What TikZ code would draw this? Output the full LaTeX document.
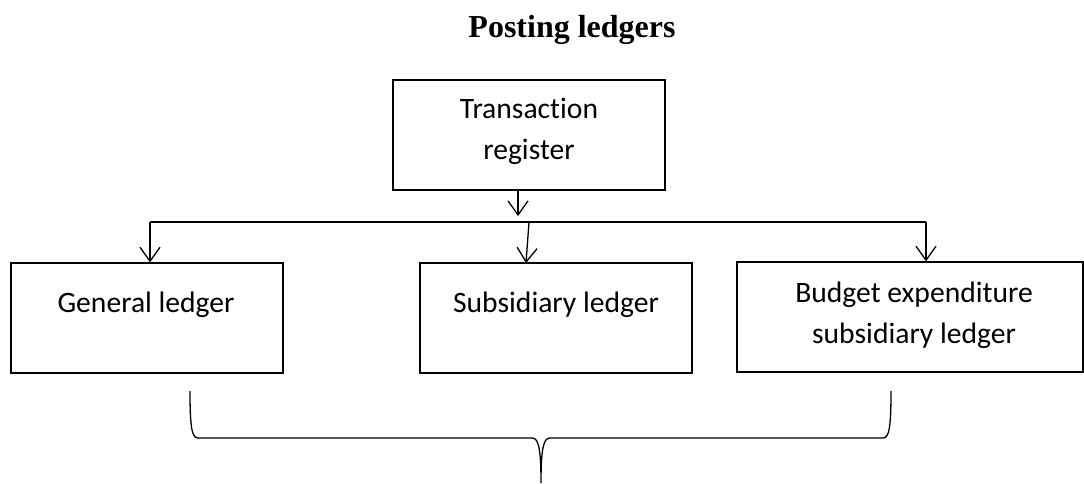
\documentclass[tikz,border=0pt]{standalone}
\usepackage{fontspec}
\setmainfont{Carlito}[Ligatures=NoCommon]
\newfontfamily\titlefont{Liberation Serif}
\usetikzlibrary{arrows.meta}

\tikzset{
  ledgerbox/.style={draw=black, line width=1.3pt, minimum width=272pt, minimum height=110pt, inner sep=0pt},
  boxtext/.style={font=\fontsize{29.6}{41}\selectfont, inner sep=0pt, align=center},
  link/.style={line width=1.3pt},
  flow/.style={line width=1.3pt, -{Straight Barb[length=14pt,width=20pt,line width=1.3pt]}},
}

\begin{document}
\begin{tikzpicture}[x=1pt, y=-1pt]
  \useasboundingbox (0,0) rectangle (1084,483);

  % title
  \node[font=\titlefont\fontsize{32}{38}\selectfont\bfseries, anchor=base, inner sep=0pt] (title) at (572,37) {Posting ledgers};

  % source register
  \node[ledgerbox] (tr) at (529,135) {};
  \node[boxtext] (trtext) at (529,131) {Transaction\\register};

  % the three ledgers
  \node[ledgerbox] (gl) at (147,318) {};
  \node[boxtext, anchor=base] (gltext) at (146,312) {General ledger};

  \node[ledgerbox] (sl) at (556,318) {};
  \node[boxtext, anchor=base] (sltext) at (556,312) {Subsidiary ledger};

  \node[ledgerbox, minimum width=346pt] (bl) at (910,317) {};
  \node[boxtext] (bltext) at (914,315) {Budget expenditure\\subsidiary ledger};

  % distribution bus
  \coordinate (busL) at (150,222);
  \coordinate (busM) at (529,222);
  \coordinate (busR) at (926,222);
  \coordinate (trout) at (518,190);

  \draw[flow] (trout) -- (518,216);
  \draw[link] (busL) -- (busR);
  \draw[flow] (busL) -- (busL |- gl.north);
  \draw[flow] (busM) -- (526,263);
  \draw[flow] (busR) -- (busR |- bl.north);

  % brace gathering the ledgers
  \coordinate (braceL) at (190,391);
  \coordinate (braceR) at (891,391);
  \coordinate (braceTip) at (541,483);
  \draw[line width=1.3pt]
    (braceL) .. controls (190,428) and (192,438) .. (198,438)
    -- (532,438) .. controls (538,438) and (541,446) .. (braceTip)
    (braceTip) .. controls (541,446) and (544,438) .. (550,438)
    -- (883,438) .. controls (889,438) and (891,428) .. (braceR);
\end{tikzpicture}
\end{document}
